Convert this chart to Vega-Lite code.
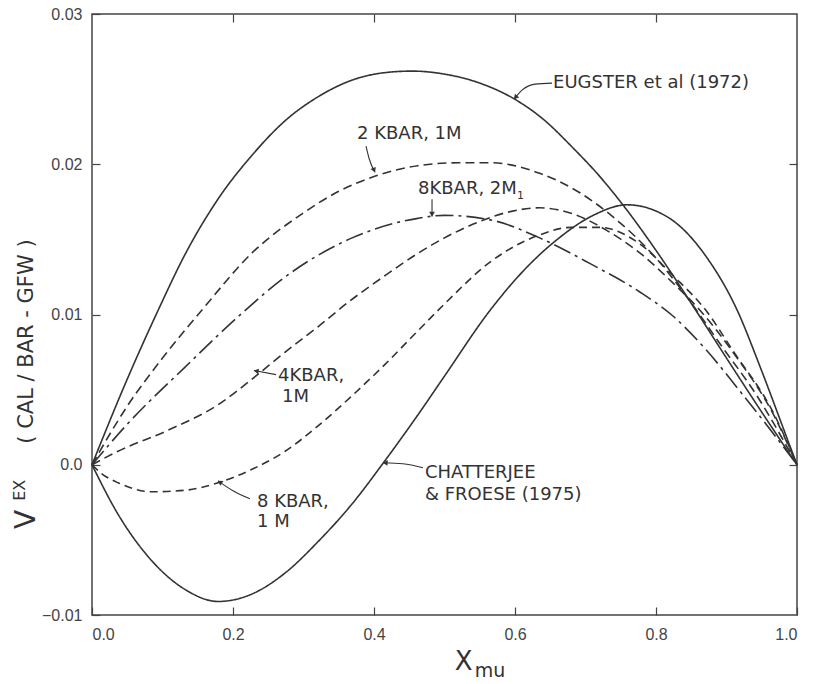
{
  "$schema": "https://vega.github.io/schema/vega-lite/v6.json",
  "width": 705,
  "height": 601,
  "autosize": {"type": "none"},
  "padding": {"left": 92, "top": 14, "right": 16, "bottom": 69},
  "background": "white",
  "config": {
    "view": {"stroke": "#444", "strokeWidth": 1.5},
    "axis": {"grid": false, "domain": false, "labelFont": "Liberation Sans", "labelFontSize": 16, "labelColor": "#444", "tickColor": "#444", "tickSize": -8, "tickWidth": 1.2}
  },
  "resolve": {"axis": {"x": "independent", "y": "independent"}},
  "layer": [
    {
      "data": {"name": "curves", "values": [
        {"s": "E", "x": 0, "y": 0}, {"s": "E", "x": 0.05, "y": 0.0057}, {"s": "E", "x": 0.094, "y": 0.0103}, {"s": "E", "x": 0.132, "y": 0.014}, {"s": "E", "x": 0.179, "y": 0.0177}, {"s": "E", "x": 0.227, "y": 0.0206}, {"s": "E", "x": 0.274, "y": 0.0229}, {"s": "E", "x": 0.321, "y": 0.0245}, {"s": "E", "x": 0.369, "y": 0.0256}, {"s": "E", "x": 0.416, "y": 0.0261}, {"s": "E", "x": 0.454, "y": 0.0262}, {"s": "E", "x": 0.5, "y": 0.026}, {"s": "E", "x": 0.55, "y": 0.0254}, {"s": "E", "x": 0.597, "y": 0.0244}, {"s": "E", "x": 0.64, "y": 0.023}, {"s": "E", "x": 0.682, "y": 0.0211}, {"s": "E", "x": 0.72, "y": 0.0192}, {"s": "E", "x": 0.753, "y": 0.0173}, {"s": "E", "x": 0.801, "y": 0.0142}, {"s": "E", "x": 0.852, "y": 0.0106}, {"s": "E", "x": 0.9, "y": 0.0071}, {"s": "E", "x": 0.95, "y": 0.0035}, {"s": "E", "x": 1.0, "y": 0},
        {"s": "C", "x": 0, "y": 0}, {"s": "C", "x": 0.037, "y": -0.0033}, {"s": "C", "x": 0.085, "y": -0.0064}, {"s": "C", "x": 0.132, "y": -0.0083}, {"s": "C", "x": 0.179, "y": -0.0091}, {"s": "C", "x": 0.227, "y": -0.0086}, {"s": "C", "x": 0.274, "y": -0.0072}, {"s": "C", "x": 0.321, "y": -0.0051}, {"s": "C", "x": 0.369, "y": -0.0026}, {"s": "C", "x": 0.416, "y": 0.0003}, {"s": "C", "x": 0.462, "y": 0.0033}, {"s": "C", "x": 0.5, "y": 0.0059}, {"s": "C", "x": 0.565, "y": 0.0103}, {"s": "C", "x": 0.62, "y": 0.0133}, {"s": "C", "x": 0.66, "y": 0.015}, {"s": "C", "x": 0.711, "y": 0.0166}, {"s": "C", "x": 0.759, "y": 0.0173}, {"s": "C", "x": 0.816, "y": 0.0165}, {"s": "C", "x": 0.872, "y": 0.0138}, {"s": "C", "x": 0.915, "y": 0.0103}, {"s": "C", "x": 0.947, "y": 0.0066}, {"s": "C", "x": 0.98, "y": 0.0025}, {"s": "C", "x": 1.0, "y": 0},
        {"s": "K2", "x": 0, "y": 0}, {"s": "K2", "x": 0.05, "y": 0.0039}, {"s": "K2", "x": 0.1, "y": 0.0071}, {"s": "K2", "x": 0.156, "y": 0.0103}, {"s": "K2", "x": 0.227, "y": 0.0141}, {"s": "K2", "x": 0.298, "y": 0.0167}, {"s": "K2", "x": 0.35, "y": 0.0182}, {"s": "K2", "x": 0.401, "y": 0.0192}, {"s": "K2", "x": 0.462, "y": 0.0199}, {"s": "K2", "x": 0.52, "y": 0.0201}, {"s": "K2", "x": 0.565, "y": 0.0201}, {"s": "K2", "x": 0.635, "y": 0.0194}, {"s": "K2", "x": 0.692, "y": 0.0181}, {"s": "K2", "x": 0.739, "y": 0.0165}, {"s": "K2", "x": 0.801, "y": 0.0137}, {"s": "K2", "x": 0.848, "y": 0.0109}, {"s": "K2", "x": 0.89, "y": 0.0081}, {"s": "K2", "x": 0.943, "y": 0.0046}, {"s": "K2", "x": 1.0, "y": 0},
        {"s": "K8b", "x": 0, "y": 0}, {"s": "K8b", "x": 0.05, "y": 0.0027}, {"s": "K8b", "x": 0.132, "y": 0.0065}, {"s": "K8b", "x": 0.213, "y": 0.0101}, {"s": "K8b", "x": 0.274, "y": 0.0125}, {"s": "K8b", "x": 0.369, "y": 0.0151}, {"s": "K8b", "x": 0.462, "y": 0.0164}, {"s": "K8b", "x": 0.5, "y": 0.0166}, {"s": "K8b", "x": 0.565, "y": 0.0163}, {"s": "K8b", "x": 0.635, "y": 0.0151}, {"s": "K8b", "x": 0.706, "y": 0.0134}, {"s": "K8b", "x": 0.777, "y": 0.0115}, {"s": "K8b", "x": 0.824, "y": 0.0099}, {"s": "K8b", "x": 0.872, "y": 0.0076}, {"s": "K8b", "x": 0.919, "y": 0.0049}, {"s": "K8b", "x": 0.966, "y": 0.0021}, {"s": "K8b", "x": 1.0, "y": 0},
        {"s": "K4", "x": 0, "y": 0}, {"s": "K4", "x": 0.037, "y": 0.0009}, {"s": "K4", "x": 0.108, "y": 0.0023}, {"s": "K4", "x": 0.179, "y": 0.004}, {"s": "K4", "x": 0.227, "y": 0.0057}, {"s": "K4", "x": 0.274, "y": 0.0075}, {"s": "K4", "x": 0.321, "y": 0.0092}, {"s": "K4", "x": 0.363, "y": 0.0108}, {"s": "K4", "x": 0.416, "y": 0.0126}, {"s": "K4", "x": 0.46, "y": 0.014}, {"s": "K4", "x": 0.5, "y": 0.0151}, {"s": "K4", "x": 0.54, "y": 0.016}, {"s": "K4", "x": 0.589, "y": 0.0168}, {"s": "K4", "x": 0.635, "y": 0.0171}, {"s": "K4", "x": 0.682, "y": 0.0167}, {"s": "K4", "x": 0.73, "y": 0.0156}, {"s": "K4", "x": 0.777, "y": 0.0141}, {"s": "K4", "x": 0.824, "y": 0.0121}, {"s": "K4", "x": 0.862, "y": 0.0103}, {"s": "K4", "x": 0.909, "y": 0.0075}, {"s": "K4", "x": 0.966, "y": 0.0034}, {"s": "K4", "x": 1.0, "y": 0},
        {"s": "K8", "x": 0, "y": 0}, {"s": "K8", "x": 0.014, "y": -0.0006}, {"s": "K8", "x": 0.037, "y": -0.0012}, {"s": "K8", "x": 0.085, "y": -0.0018}, {"s": "K8", "x": 0.132, "y": -0.0017}, {"s": "K8", "x": 0.179, "y": -0.0012}, {"s": "K8", "x": 0.227, "y": -0.0003}, {"s": "K8", "x": 0.274, "y": 0.0009}, {"s": "K8", "x": 0.321, "y": 0.0026}, {"s": "K8", "x": 0.369, "y": 0.0046}, {"s": "K8", "x": 0.416, "y": 0.0067}, {"s": "K8", "x": 0.462, "y": 0.0089}, {"s": "K8", "x": 0.5, "y": 0.0107}, {"s": "K8", "x": 0.565, "y": 0.0135}, {"s": "K8", "x": 0.635, "y": 0.0153}, {"s": "K8", "x": 0.68, "y": 0.0158}, {"s": "K8", "x": 0.72, "y": 0.0158}, {"s": "K8", "x": 0.777, "y": 0.0147}, {"s": "K8", "x": 0.824, "y": 0.0126}, {"s": "K8", "x": 0.872, "y": 0.0102}, {"s": "K8", "x": 0.909, "y": 0.0076}, {"s": "K8", "x": 0.966, "y": 0.0035}, {"s": "K8", "x": 1.0, "y": 0}
      ]},
      "mark": {"type": "line", "interpolate": "monotone", "color": "#333", "strokeWidth": 1.6},
      "encoding": {
        "x": {"field": "x", "type": "quantitative", "scale": {"domain": [0, 1], "nice": false, "zero": false},
          "axis": {"orient": "bottom", "values": [0, 0.2, 0.4, 0.6, 0.8, 1.0], "format": ".1f", "labelPadding": 19, "title": null}},
        "y": {"field": "y", "type": "quantitative", "scale": {"domain": [-0.01, 0.03], "nice": false, "zero": false},
          "axis": {"orient": "left", "values": [-0.01, 0, 0.01, 0.02, 0.03], "labelExpr": "datum.value == 0 ? '0.0' : format(datum.value, '.2f')", "labelPadding": 18, "title": null}},
        "strokeDash": {"field": "s", "type": "nominal", "scale": {"domain": ["E", "C", "K2", "K8b", "K4", "K8"], "range": [[1, 0], [1, 0], [9, 5], [18, 5, 3, 5], [9, 5], [8, 5]]}, "legend": null},
        "detail": {"field": "s"}
      }
    },
    {
      "data": {"values": [{"x": 0.5, "y": 0.01}]},
      "mark": {"type": "point", "opacity": 0},
      "encoding": {
        "x": {"field": "x", "type": "quantitative", "axis": {"orient": "top", "values": [0.2, 0.4, 0.6, 0.8], "labels": false, "title": null}},
        "y": {"field": "y", "type": "quantitative", "axis": {"orient": "right", "values": [0, 0.01, 0.02], "labels": false, "title": null}}
      }
    },
    {
      "data": {"values": [
        {"id": 1, "o": 1, "x": 0.6525, "y": 0.0254}, {"id": 1, "o": 2, "x": 0.6284, "y": 0.02533}, {"id": 1, "o": 3, "x": 0.6099, "y": 0.02493}, {"id": 1, "o": 4, "x": 0.5986, "y": 0.02433},
        {"id": 2, "o": 1, "x": 0.3887, "y": 0.0212}, {"id": 2, "o": 2, "x": 0.3929, "y": 0.0204}, {"id": 2, "o": 3, "x": 0.4014, "y": 0.01947},
        {"id": 3, "o": 1, "x": 0.4823, "y": 0.01767}, {"id": 3, "o": 2, "x": 0.4823, "y": 0.01653},
        {"id": 4, "o": 1, "x": 0.261, "y": 0.006}, {"id": 4, "o": 2, "x": 0.2298, "y": 0.00627},
        {"id": 5, "o": 1, "x": 0.2241, "y": -0.00227}, {"id": 5, "o": 2, "x": 0.2, "y": -0.00173}, {"id": 5, "o": 3, "x": 0.1787, "y": -0.00107},
        {"id": 6, "o": 1, "x": 0.4695, "y": -0.0002}, {"id": 6, "o": 2, "x": 0.4411, "y": 0.00007}, {"id": 6, "o": 3, "x": 0.4128, "y": 0.00013}
      ]},
      "mark": {"type": "line", "interpolate": "monotone", "color": "#333", "strokeWidth": 1.1},
      "encoding": {
        "x": {"field": "x", "type": "quantitative", "axis": null},
        "y": {"field": "y", "type": "quantitative", "axis": null},
        "detail": {"field": "id"},
        "order": {"field": "o"}
      }
    },
    {
      "data": {"values": [
        {"x": 0.6014, "y": 0.02448, "dir": 222}, {"x": 0.3997, "y": 0.01965, "dir": 157}, {"x": 0.4823, "y": 0.01673, "dir": 180},
        {"x": 0.234, "y": 0.00623, "dir": 280}, {"x": 0.1823, "y": -0.00118, "dir": 304}, {"x": 0.417, "y": 0.00013, "dir": 273}
      ]},
      "mark": {"type": "point", "shape": "triangle", "filled": true, "color": "#333", "size": 32, "opacity": 1},
      "encoding": {
        "x": {"field": "x", "type": "quantitative", "axis": null},
        "y": {"field": "y", "type": "quantitative", "axis": null},
        "angle": {"field": "dir", "type": "quantitative", "scale": null}
      }
    },
    {
      "data": {"values": [
        {"t": "EUGSTER  et al (1972)", "x": 0.654, "y": 0.0254},
        {"t": "2 KBAR, 1M", "x": 0.3759, "y": 0.022},
        {"t": "8KBAR, 2M", "x": 0.4624, "y": 0.01833},
        {"t": "4KBAR,", "x": 0.2638, "y": 0.0059},
        {"t": "1M", "x": 0.2695, "y": 0.0045},
        {"t": "8 KBAR,", "x": 0.234, "y": -0.00247},
        {"t": "1 M", "x": 0.234, "y": -0.0038},
        {"t": "CHATTERJEE", "x": 0.4723, "y": -0.00053},
        {"t": "& FROESE (1975)", "x": 0.4723, "y": -0.002}
      ]},
      "mark": {"type": "text", "align": "left", "baseline": "middle", "font": "DejaVu Sans", "fontSize": 18, "color": "#333"},
      "encoding": {
        "x": {"field": "x", "type": "quantitative", "axis": null},
        "y": {"field": "y", "type": "quantitative", "axis": null},
        "text": {"field": "t"}
      }
    },
    {
      "data": {"values": [{"t": "1", "x": 0.603, "y": 0.0179}]},
      "mark": {"type": "text", "align": "left", "baseline": "middle", "font": "DejaVu Sans", "fontSize": 11, "color": "#333"},
      "encoding": {
        "x": {"field": "x", "type": "quantitative", "axis": null},
        "y": {"field": "y", "type": "quantitative", "axis": null},
        "text": {"field": "t"}
      }
    },
    {
      "data": {"values": [{"t": "V", "x": -0.0922, "y": -0.00427}]},
      "mark": {"type": "text", "align": "left", "baseline": "middle", "angle": 270, "font": "DejaVu Sans", "fontSize": 28, "color": "#333"},
      "encoding": {
        "x": {"field": "x", "type": "quantitative", "axis": null},
        "y": {"field": "y", "type": "quantitative", "axis": null},
        "text": {"field": "t"}
      }
    },
    {
      "data": {"values": [{"t": "EX", "x": -0.1021, "y": -0.0024}]},
      "mark": {"type": "text", "align": "left", "baseline": "middle", "angle": 270, "font": "DejaVu Sans", "fontSize": 16, "color": "#333"},
      "encoding": {
        "x": {"field": "x", "type": "quantitative", "axis": null},
        "y": {"field": "y", "type": "quantitative", "axis": null},
        "text": {"field": "t"}
      }
    },
    {
      "data": {"values": [{"t": "( CAL  /  BAR  -  GFW )", "x": -0.0922, "y": 0.0014}]},
      "mark": {"type": "text", "align": "left", "baseline": "middle", "angle": 270, "font": "DejaVu Sans", "fontSize": 21, "color": "#333"},
      "encoding": {
        "x": {"field": "x", "type": "quantitative", "axis": null},
        "y": {"field": "y", "type": "quantitative", "axis": null},
        "text": {"field": "t"}
      }
    },
    {
      "data": {"values": [{"t": "X", "x": 0.527, "y": -0.0131}]},
      "mark": {"type": "text", "align": "center", "baseline": "middle", "font": "DejaVu Sans", "fontSize": 26, "color": "#333"},
      "encoding": {
        "x": {"field": "x", "type": "quantitative", "axis": null},
        "y": {"field": "y", "type": "quantitative", "axis": null},
        "text": {"field": "t"}
      }
    },
    {
      "data": {"values": [{"t": "mu", "x": 0.543, "y": -0.0137}]},
      "mark": {"type": "text", "align": "left", "baseline": "middle", "font": "DejaVu Sans", "fontSize": 19, "color": "#333"},
      "encoding": {
        "x": {"field": "x", "type": "quantitative", "axis": null},
        "y": {"field": "y", "type": "quantitative", "axis": null},
        "text": {"field": "t"}
      }
    }
  ]
}
